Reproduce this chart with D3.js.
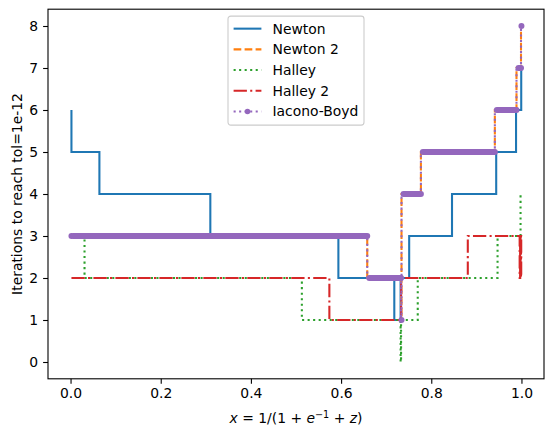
<!DOCTYPE html>
<html>
<head>
<meta charset="utf-8">
<script src="https://cdn.jsdelivr.net/npm/d3@7"></script>
<style>
body { margin: 0; background: #fff; }
text { font-family: "DejaVu Sans", sans-serif; fill: #000; }
</style>
</head>
<body>
<div id="my_dataviz"></div>
<script>
// step data, matplotlib where='pre': y[i] holds on (x[i-1], x[i]]
var newtonX   = [0.002, 0.064, 0.31, 0.594, 0.718, 0.732, 0.751, 0.846, 0.944, 0.988, 0.9995, 1.0];
var newtonY   = [6, 5, 4, 3, 2, 1, 2, 3, 4, 5, 6, 7];
var newton2X  = [0.002, 0.658, 0.733, 0.734, 0.777, 0.941, 0.989, 0.999, 1.0];
var newton2Y  = [3, 3, 2, 1, 4, 5, 6, 7, 8];
var halleyX   = [0.002, 0.031, 0.513, 0.732, 0.733, 0.770, 0.947, 0.998, 1.0];
var halleyY   = [3, 3, 2, 1, 0, 1, 2, 3, 4];
var halley2X  = [0.002, 0.574, 0.733, 0.881, 0.996, 0.997, 0.998, 0.999, 0.9995, 1.0];
var halley2Y  = [2, 2, 1, 2, 3, 2, 3, 2, 3, 2];
var iaconoX   = [0.002, 0.658, 0.733, 0.734, 0.777, 0.941, 0.989, 0.999, 1.0];
var iaconoY   = [3, 3, 2, 1, 4, 5, 6, 7, 8];

var xTicks = [0, 0.2, 0.4, 0.6, 0.8, 1.0];
var yTicks = [0, 1, 2, 3, 4, 5, 6, 7, 8];

var series = [
    { name: "Newton",      xs: newtonX,  ys: newtonY,  color: "#1f77b4", dash: null },
    { name: "Newton 2",    xs: newton2X, ys: newton2Y, color: "#ff7f0e", dash: "7.7,3.3" },
    { name: "Halley",      xs: halleyX,  ys: halleyY,  color: "#2ca02c", dash: "2.08,3.44" },
    { name: "Halley 2",    xs: halley2X, ys: halley2Y, color: "#d62728", dash: "13.3,3.3,2.08,3.3" },
    { name: "Iacono-Boyd", xs: iaconoX,  ys: iaconoY,  color: "#9467bd", dash: "2.08,3.44", marker: true }
];

var margin = { top: 9.2, right: 10, bottom: 59.2, left: 48 },
    width = 496,
    height = 369.6;

var svg = d3.select("#my_dataviz")
    .append("svg")
    .attr("width", 554)
    .attr("height", 438)
    .append("g")
    .attr("transform", "translate(" + margin.left + "," + margin.top + ")");

var x = d3.scaleLinear().domain([-0.05, 1.05]).range([0, width]);
var y = d3.scaleLinear().domain([-0.4, 8.4]).range([height, 0]);

var xAxis = svg.append("g")
    .attr("transform", "translate(0," + height + ")")
    .call(d3.axisBottom(x).tickValues(xTicks).tickFormat(d3.format(".1f"))
        .tickSize(4.9).tickPadding(4.9));
var yAxis = svg.append("g")
    .call(d3.axisLeft(y).tickValues(yTicks).tickFormat(d3.format("d"))
        .tickSize(4.9).tickPadding(4.9));

[xAxis, yAxis].forEach(function(a) {
    a.select(".domain").remove();
    a.selectAll(".tick line").attr("stroke", "#000").attr("stroke-width", 1.1);
    a.selectAll(".tick text").style("font-size", "13.9px").attr("fill", "#000");
});

var line = d3.line()
    .x(function(d) { return x(d[0]); })
    .y(function(d) { return y(d[1]); })
    .curve(d3.curveStepBefore);

var plot = svg.append("g");

series.forEach(function(s) {
    var pts = s.xs.map(function(v, i) { return [v, s.ys[i]]; });
    plot.append("path")
        .datum(pts)
        .attr("d", line)
        .attr("fill", "none")
        .attr("stroke", s.color)
        .attr("stroke-width", 2.08)
        .attr("stroke-dasharray", s.dash);

    if (s.marker) {
        // dense '.' markers merge into thick runs along every level
        var runs = [[pts[0][0], pts[0][0], pts[0][1]]];
        for (var i = 1; i < pts.length; i++) {
            runs.push([pts[i - 1][0], pts[i][0], pts[i][1]]);
        }
        plot.selectAll(".run")
            .data(runs)
            .enter()
            .append("line")
            .attr("x1", function(d) {
                var a = x(d[0]), b = x(d[1]);
                return b - a > 4 ? a + 2 : b;
            })
            .attr("x2", function(d) { return x(d[1]); })
            .attr("y1", function(d) { return y(d[2]); })
            .attr("y2", function(d) { return y(d[2]); })
            .attr("stroke", s.color)
            .attr("stroke-width", 6)
            .attr("stroke-linecap", "round");
    }
});

// frame
svg.append("rect")
    .attr("width", width)
    .attr("height", height)
    .attr("fill", "none")
    .attr("stroke", "#000")
    .attr("stroke-width", 1.1);

// legend
var legW = 136, legH = 109;
var legend = svg.append("g")
    .attr("transform", "translate(" + (width / 2 - legW / 2) + "," + 6.9 + ")");
legend.append("rect")
    .attr("width", legW)
    .attr("height", legH)
    .attr("rx", 2.8)
    .attr("fill", "#fff")
    .attr("fill-opacity", 0.8)
    .attr("stroke", "#cccccc")
    .attr("stroke-width", 1.1);

series.forEach(function(s, i) {
    var ly = 12.55 + i * 20.7;
    legend.append("line")
        .attr("x1", 5.6).attr("x2", 33.4)
        .attr("y1", ly).attr("y2", ly)
        .attr("stroke", s.color)
        .attr("stroke-width", 2.08)
        .attr("stroke-dasharray", s.dash);
    if (s.marker) {
        legend.append("circle")
            .attr("cx", 19.5).attr("cy", ly).attr("r", 2.8)
            .attr("fill", s.color);
    }
    legend.append("text")
        .attr("x", 44.5)
        .attr("y", ly)
        .attr("dy", "0.35em")
        .style("font-size", "13.9px")
        .text(s.name);
});

// axis labels
var xl = svg.append("text")
    .attr("x", width / 2)
    .attr("y", 414)
    .attr("text-anchor", "middle")
    .style("font-size", "13.9px");
xl.append("tspan").style("font-style", "italic").text("x");
xl.append("tspan").text(" = 1/(1 + ");
xl.append("tspan").style("font-style", "italic").text("e");
xl.append("tspan").attr("dy", -5.5).style("font-size", "9.7px").text("\u22121");
xl.append("tspan").attr("dy", 5.5).text(" + ");
xl.append("tspan").style("font-style", "italic").text("z");
xl.append("tspan").text(")");

svg.append("text")
    .attr("transform", "translate(-31," + (height / 2) + ") rotate(-90)")
    .attr("text-anchor", "middle")
    .attr("dy", "0.35em")
    .style("font-size", "13.9px")
    .text("Iterations to reach tol=1e-12");
</script>
</body>
</html>
